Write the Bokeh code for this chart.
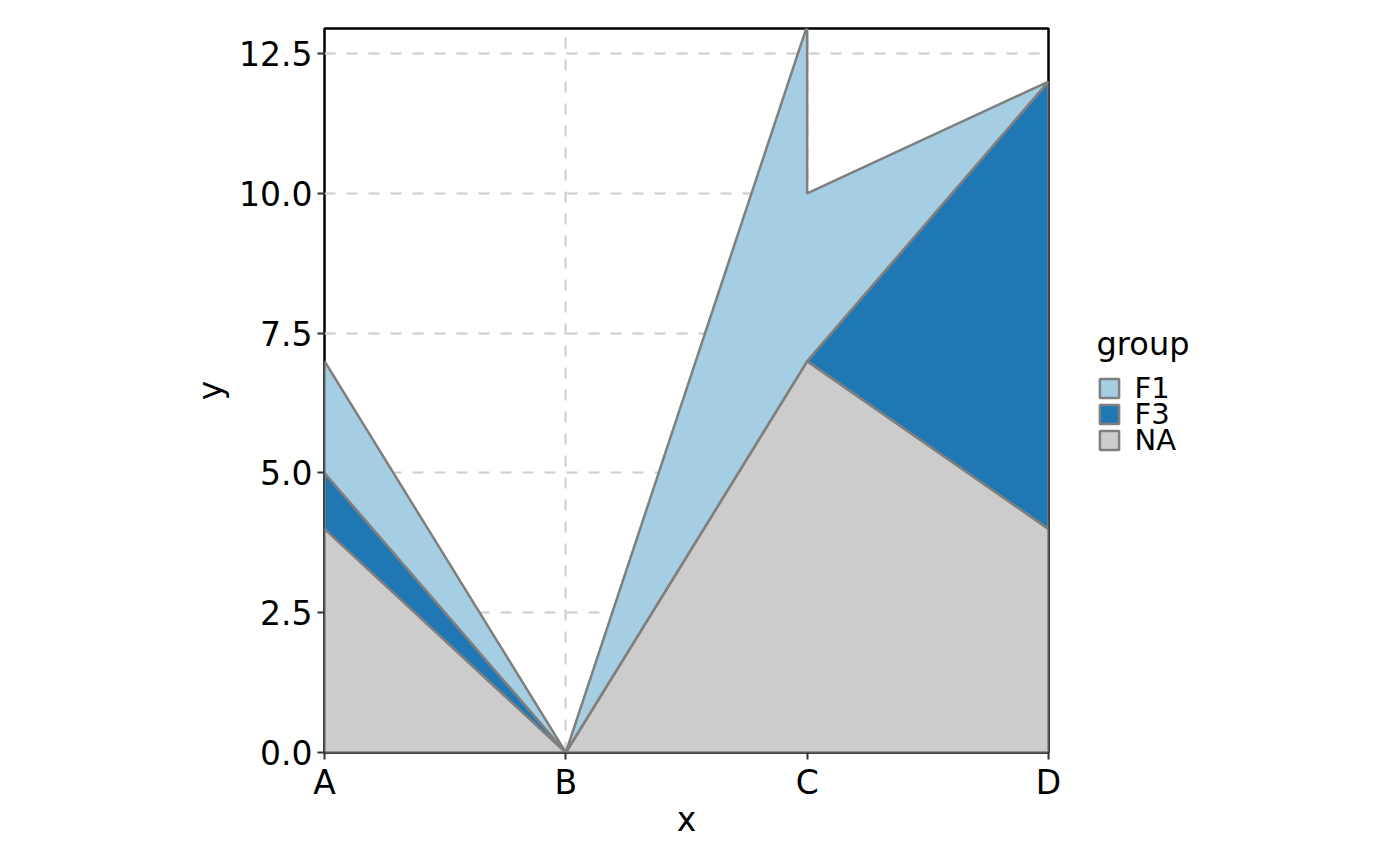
from bokeh.plotting import figure
from bokeh.models import (Range1d, FixedTicker, Legend, LegendItem, PrintfTickFormatter,
                          LinearAxis)
from bokeh.core.properties import value
from bokeh.embed import file_html
from bokeh.resources import INLINE

# ---- data ----
categories = ["A", "B", "C", "D"]
groups = ["F1", "F3", "NA"]
group_colors = ["#A6CEE3", "#1F78B4", "#CCCCCC"]

na_x = ["A", "B", "C", "D"]
na_y = [4, 0, 7, 4]
f3_x = ["A", "B", "C", "D"]
f3_y = [1, 0, 0, 8]
f1_x = ["A", "B", "C", "C", "D"]
f1_y = [2, 0, 6, 3, 0]

y_ticks = [0, 2.5, 5, 7.5, 10, 12.5]
y_max = 12.95

FONT = "DejaVu Sans"
OUTLINE = "#7F7F7F"

pos = {c: i for i, c in enumerate(categories)}
na_map = dict(zip(na_x, na_y))
f3_map = dict(zip(f3_x, f3_y))


def polygon(xs, base, vals):
    px = [pos[x] for x in xs]
    top = [b + v for b, v in zip(base, vals)]
    return px + px[::-1], top + base[::-1]


na_poly = polygon(na_x, [0] * len(na_x), na_y)
f3_poly = polygon(f3_x, [na_map[x] for x in f3_x], f3_y)
f1_poly = polygon(f1_x, [na_map[x] + f3_map[x] for x in f1_x], f1_y)

FRAME = 724
p = figure(
    frame_width=FRAME, frame_height=FRAME,
    min_border_left=324, min_border_top=28, min_border_right=336, min_border_bottom=98,
    x_range=Range1d(0, len(categories) - 1), y_range=Range1d(0, y_max),
    output_backend="svg", toolbar_location=None,
)
p.background_fill_color = "white"
p.border_fill_color = "white"
p.outline_line_color = "black"
p.outline_line_width = 2.5

polys = {"NA": na_poly, "F3": f3_poly, "F1": f1_poly}
renderers = {}
for g in ["NA", "F3", "F1"]:
    xs, ys = polys[g]
    renderers[g] = p.patch(xs, ys, fill_color=group_colors[groups.index(g)],
                           line_color=OUTLINE, line_width=2.5)

# axes
p.xaxis.ticker = FixedTicker(ticks=list(range(len(categories))))
p.xaxis.major_label_overrides = {i: c for i, c in enumerate(categories)}
p.yaxis.ticker = FixedTicker(ticks=y_ticks)
p.yaxis.formatter = PrintfTickFormatter(format="%.1f")
p.xaxis.axis_label = "x"
p.yaxis.axis_label = "y"
for ax in [p.xaxis[0], p.yaxis[0]]:
    ax.axis_line_color = None
    ax.major_tick_in = 0
    ax.major_tick_out = 7
    ax.major_tick_line_color = "#333333"
    ax.major_tick_line_width = 2
    ax.minor_tick_line_color = None
    ax.major_label_text_font = FONT
    ax.major_label_text_font_size = "33px"
    ax.major_label_text_color = "black"
    ax.axis_label_text_font = FONT
    ax.axis_label_text_font_size = "33px"
    ax.axis_label_text_font_style = "normal"
    ax.axis_label_text_color = "black"
p.xaxis.major_label_standoff = 3
p.yaxis.major_label_standoff = 5
p.xaxis.axis_label_standoff = -5
p.yaxis.axis_label_standoff = 6

p.xgrid.ticker = FixedTicker(ticks=list(range(len(categories))))
p.ygrid.ticker = FixedTicker(ticks=y_ticks)
for gr in [p.xgrid[0], p.ygrid[0]]:
    gr.grid_line_color = "#CCCCCC"
    gr.grid_line_width = 2
    gr.grid_line_dash = "11 11"

# legend labels: drawn as a label-only axis in pixel units of the frame height
p.extra_y_ranges = {"legend_px": Range1d(0, FRAME)}
row_px = [364.5, 338.5, 312.5]  # vertical centres of legend rows (layout, px from frame bottom)
lab_axis = LinearAxis(
    y_range_name="legend_px",
    ticker=FixedTicker(ticks=row_px),
    major_label_overrides={r: g for r, g in zip(row_px, groups)},
    axis_line_color=None, major_tick_line_color=None, minor_tick_line_color=None,
    major_tick_in=0, major_tick_out=0, minor_tick_in=0, minor_tick_out=0,
    major_label_standoff=86,
    major_label_text_font=FONT, major_label_text_font_size="29px",
    major_label_text_color="black",
)
p.add_layout(lab_axis, "right")

legend = Legend(
    items=[LegendItem(label=value(""), renderers=[renderers[g]]) for g in groups],
    title="group",
    location=(-286, 300),
    orientation="vertical",
    glyph_width=24, glyph_height=24, label_height=24, label_width=0, spacing=2,
    label_standoff=0, padding=0, margin=0,
    border_line_color=None, background_fill_alpha=0,
    label_text_font=FONT, label_text_font_size="10px",
    title_text_font=FONT, title_text_font_size="32px", title_text_font_style="normal",
    title_text_color="black",
    title_standoff=13,
)
p.add_layout(legend, "right")

open("out.html", "w").write(file_html(p, INLINE))
